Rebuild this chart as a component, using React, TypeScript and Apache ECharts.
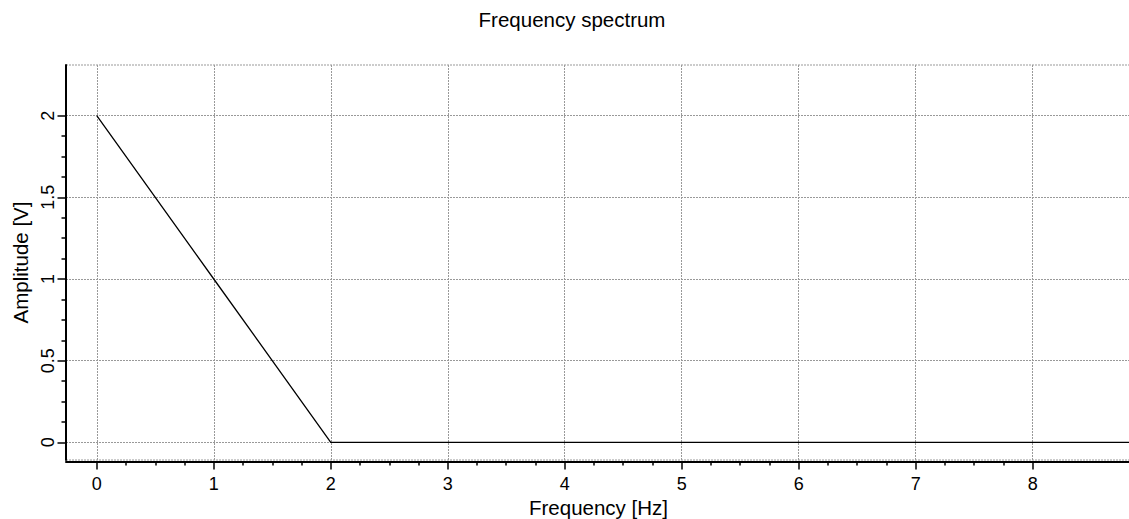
import { useEffect, useRef } from "react";
import * as echarts from "echarts";

const frequencies = [0, 1, 2, 3, 4, 5, 6, 7, 8, 9];
const amplitudes = [2, 1, 0, 0, 0, 0, 0, 0, 0, 0];

const xMajorTicks = [0, 1, 2, 3, 4, 5, 6, 7, 8];
const xMinorTicks = [
  0.25, 0.5, 0.75, 1.25, 1.5, 1.75, 2.25, 2.5, 2.75, 3.25, 3.5, 3.75,
  4.25, 4.5, 4.75, 5.25, 5.5, 5.75, 6.25, 6.5, 6.75, 7.25, 7.5, 7.75,
];
const yMajorTicks = [0, 0.5, 1, 1.5, 2];
const yMinorTicks = [
  0.125, 0.25, 0.375, 0.625, 0.75, 0.875, 1.125, 1.25, 1.375, 1.625, 1.75, 1.875,
];

const X_MIN = -0.263;
const X_MAX = 8.84;
const Y_MIN = -0.108;
const Y_MAX = 2.31;

const FONT = "Liberation Sans, Arial, sans-serif";

export default function App() {
  const ref = useRef<HTMLDivElement>(null);
  useEffect(() => {
    if (!ref.current) return;
    const chart = echarts.init(ref.current, undefined, { renderer: "svg" });
    const gridLine = { show: true, lineStyle: { color: "#999", type: [2, 1] as any, width: 1 } };
    chart.setOption({
      animation: false,
      backgroundColor: "#fff",
      title: {
        text: "Frequency spectrum",
        left: 567,
        top: 4,
        textAlign: "center",
        textStyle: { fontSize: 20.5, fontWeight: "normal", color: "#000", fontFamily: FONT },
      },
      grid: {
        left: 66,
        top: 65,
        right: -2,
        bottom: 59,
        containLabel: false,
        outerBoundsMode: "none",
        show: true,
        borderColor: "#999",
        borderWidth: 1,
        borderType: [2, 1],
      },
      xAxis: [
        {
          type: "value",
          min: X_MIN,
          max: X_MAX,
          splitNumber: 9,
          position: "bottom",
          offset: 1.5,
          name: "Frequency [Hz]",
          nameLocation: "middle",
          nameGap: 35,
          nameTextStyle: { fontSize: 20.5, color: "#000", fontFamily: FONT },
          axisLine: { show: true, onZero: false, lineStyle: { color: "#000", width: 2 } },
          axisTick: {
            show: true,
            inside: false,
            length: 8,
            customValues: xMajorTicks,
            lineStyle: { color: "#000", width: 1.5 },
          },
          axisLabel: {
            customValues: xMajorTicks,
            margin: 13,
            fontSize: 18,
            color: "#000",
            fontFamily: FONT,
          },
          splitLine: gridLine,
          minorTick: { show: false },
        },
        {
          type: "value",
          min: X_MIN,
          max: X_MAX,
          position: "bottom",
          offset: 1.5,
          axisLine: { show: false, onZero: false },
          axisTick: {
            show: true,
            inside: false,
            length: 4,
            customValues: xMinorTicks,
            lineStyle: { color: "#000", width: 1.5 },
          },
          axisLabel: { show: false },
          splitLine: { show: false },
        },
      ],
      yAxis: [
        {
          type: "value",
          min: Y_MIN,
          max: Y_MAX,
          splitNumber: 5,
          position: "left",
          offset: 0.5,
          name: "Amplitude [V]",
          nameLocation: "middle",
          nameGap: 32,
          nameTextStyle: { fontSize: 20.5, color: "#000", fontFamily: FONT },
          axisLine: { show: true, onZero: false, lineStyle: { color: "#000", width: 2 } },
          axisTick: {
            show: true,
            inside: false,
            length: 8,
            customValues: yMajorTicks,
            lineStyle: { color: "#000", width: 1.5 },
          },
          axisLabel: {
            customValues: yMajorTicks,
            rotate: 90,
            margin: 9,
            fontSize: 18,
            color: "#000",
            fontFamily: FONT,
          },
          splitLine: gridLine,
        },
        {
          type: "value",
          min: Y_MIN,
          max: Y_MAX,
          position: "left",
          offset: 0.5,
          axisLine: { show: false, onZero: false },
          axisTick: {
            show: true,
            inside: false,
            length: 4,
            customValues: yMinorTicks,
            lineStyle: { color: "#000", width: 1.5 },
          },
          axisLabel: { show: false },
          splitLine: { show: false },
        },
      ],
      series: [
        {
          type: "line",
          xAxisIndex: 0,
          yAxisIndex: 0,
          data: frequencies.map((f, i) => [f, amplitudes[i]]),
          showSymbol: false,
          symbol: "none",
          clip: true,
          lineStyle: { color: "#000", width: 1.3 },
        },
      ],
    });
    return () => chart.dispose();
  }, []);
  return (
    <div
      ref={ref}
      style={{ position: "absolute", left: 0, top: 0, width: 1129, height: 519 }}
    />
  );
}
